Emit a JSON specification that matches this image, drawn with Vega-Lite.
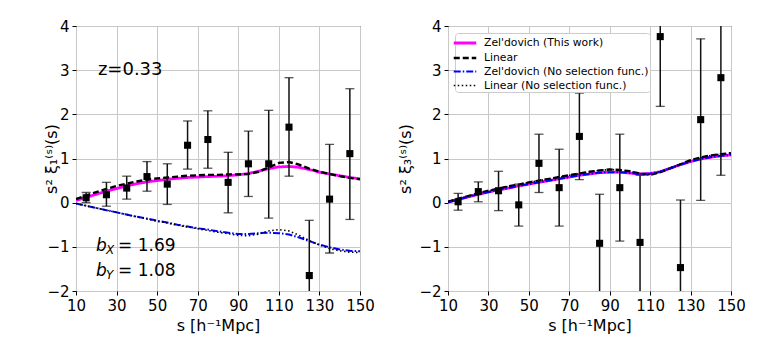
{
  "$schema": "https://vega.github.io/schema/vega-lite/v6.json",
  "padding": {"left": 42, "top": 18, "right": 5, "bottom": 5},
  "spacing": 21,
  "config": {
    "font": "DejaVu Sans",
    "view": {"stroke": "black", "strokeWidth": 1},
    "axis": {
      "domain": false, "grid": true, "gridColor": "#c8c8c8", "gridWidth": 1,
      "tickColor": "black", "tickSize": 4, "labelColor": "black", "labelFontSize": 15,
      "titleFontSize": 16, "titleFontWeight": "normal", "titleColor": "black", "labelPadding": 3, "labelOverlap": false, "labelFlush": false
    },
    "axisY": {"titleY": 132.5, "titleAngle": -90, "titleAlign": "center", "titleBaseline": "middle"}
  },
  "datasets": {
    "curves": [
      {"p":1,"series":"Zel'dovich (This work)","s":10,"v":0.05},{"p":1,"series":"Zel'dovich (This work)","s":15,"v":0.12},{"p":1,"series":"Zel'dovich (This work)","s":20,"v":0.19},{"p":1,"series":"Zel'dovich (This work)","s":25,"v":0.26},{"p":1,"series":"Zel'dovich (This work)","s":30,"v":0.32},{"p":1,"series":"Zel'dovich (This work)","s":35,"v":0.38},{"p":1,"series":"Zel'dovich (This work)","s":40,"v":0.43},{"p":1,"series":"Zel'dovich (This work)","s":45,"v":0.47},{"p":1,"series":"Zel'dovich (This work)","s":50,"v":0.50},{"p":1,"series":"Zel'dovich (This work)","s":55,"v":0.53},{"p":1,"series":"Zel'dovich (This work)","s":60,"v":0.55},{"p":1,"series":"Zel'dovich (This work)","s":65,"v":0.57},{"p":1,"series":"Zel'dovich (This work)","s":70,"v":0.58},{"p":1,"series":"Zel'dovich (This work)","s":75,"v":0.59},{"p":1,"series":"Zel'dovich (This work)","s":80,"v":0.60},{"p":1,"series":"Zel'dovich (This work)","s":85,"v":0.61},{"p":1,"series":"Zel'dovich (This work)","s":90,"v":0.63},{"p":1,"series":"Zel'dovich (This work)","s":95,"v":0.66},{"p":1,"series":"Zel'dovich (This work)","s":100,"v":0.71},{"p":1,"series":"Zel'dovich (This work)","s":105,"v":0.77},{"p":1,"series":"Zel'dovich (This work)","s":110,"v":0.81},{"p":1,"series":"Zel'dovich (This work)","s":115,"v":0.82},{"p":1,"series":"Zel'dovich (This work)","s":120,"v":0.80},{"p":1,"series":"Zel'dovich (This work)","s":125,"v":0.75},{"p":1,"series":"Zel'dovich (This work)","s":130,"v":0.69},{"p":1,"series":"Zel'dovich (This work)","s":135,"v":0.65},{"p":1,"series":"Zel'dovich (This work)","s":140,"v":0.61},{"p":1,"series":"Zel'dovich (This work)","s":145,"v":0.57},{"p":1,"series":"Zel'dovich (This work)","s":150,"v":0.54},
      {"p":1,"series":"Linear","s":10,"v":0.08},{"p":1,"series":"Linear","s":15,"v":0.16},{"p":1,"series":"Linear","s":20,"v":0.24},{"p":1,"series":"Linear","s":25,"v":0.31},{"p":1,"series":"Linear","s":30,"v":0.38},{"p":1,"series":"Linear","s":35,"v":0.43},{"p":1,"series":"Linear","s":40,"v":0.48},{"p":1,"series":"Linear","s":45,"v":0.52},{"p":1,"series":"Linear","s":50,"v":0.55},{"p":1,"series":"Linear","s":55,"v":0.57},{"p":1,"series":"Linear","s":60,"v":0.59},{"p":1,"series":"Linear","s":65,"v":0.61},{"p":1,"series":"Linear","s":70,"v":0.62},{"p":1,"series":"Linear","s":75,"v":0.63},{"p":1,"series":"Linear","s":80,"v":0.63},{"p":1,"series":"Linear","s":85,"v":0.64},{"p":1,"series":"Linear","s":90,"v":0.64},{"p":1,"series":"Linear","s":95,"v":0.65},{"p":1,"series":"Linear","s":100,"v":0.70},{"p":1,"series":"Linear","s":105,"v":0.80},{"p":1,"series":"Linear","s":110,"v":0.90},{"p":1,"series":"Linear","s":115,"v":0.92},{"p":1,"series":"Linear","s":120,"v":0.86},{"p":1,"series":"Linear","s":125,"v":0.77},{"p":1,"series":"Linear","s":130,"v":0.70},{"p":1,"series":"Linear","s":135,"v":0.65},{"p":1,"series":"Linear","s":140,"v":0.60},{"p":1,"series":"Linear","s":145,"v":0.56},{"p":1,"series":"Linear","s":150,"v":0.53},
      {"p":1,"series":"Zel'dovich (No selection func.)","s":10,"v":-0.02},{"p":1,"series":"Zel'dovich (No selection func.)","s":15,"v":-0.07},{"p":1,"series":"Zel'dovich (No selection func.)","s":20,"v":-0.12},{"p":1,"series":"Zel'dovich (No selection func.)","s":25,"v":-0.17},{"p":1,"series":"Zel'dovich (No selection func.)","s":30,"v":-0.22},{"p":1,"series":"Zel'dovich (No selection func.)","s":35,"v":-0.27},{"p":1,"series":"Zel'dovich (No selection func.)","s":40,"v":-0.32},{"p":1,"series":"Zel'dovich (No selection func.)","s":45,"v":-0.36},{"p":1,"series":"Zel'dovich (No selection func.)","s":50,"v":-0.41},{"p":1,"series":"Zel'dovich (No selection func.)","s":55,"v":-0.45},{"p":1,"series":"Zel'dovich (No selection func.)","s":60,"v":-0.50},{"p":1,"series":"Zel'dovich (No selection func.)","s":65,"v":-0.54},{"p":1,"series":"Zel'dovich (No selection func.)","s":70,"v":-0.58},{"p":1,"series":"Zel'dovich (No selection func.)","s":75,"v":-0.61},{"p":1,"series":"Zel'dovich (No selection func.)","s":80,"v":-0.65},{"p":1,"series":"Zel'dovich (No selection func.)","s":85,"v":-0.68},{"p":1,"series":"Zel'dovich (No selection func.)","s":90,"v":-0.71},{"p":1,"series":"Zel'dovich (No selection func.)","s":95,"v":-0.71},{"p":1,"series":"Zel'dovich (No selection func.)","s":100,"v":-0.69},{"p":1,"series":"Zel'dovich (No selection func.)","s":105,"v":-0.68},{"p":1,"series":"Zel'dovich (No selection func.)","s":110,"v":-0.69},{"p":1,"series":"Zel'dovich (No selection func.)","s":115,"v":-0.72},{"p":1,"series":"Zel'dovich (No selection func.)","s":120,"v":-0.79},{"p":1,"series":"Zel'dovich (No selection func.)","s":125,"v":-0.87},{"p":1,"series":"Zel'dovich (No selection func.)","s":130,"v":-0.95},{"p":1,"series":"Zel'dovich (No selection func.)","s":135,"v":-1.01},{"p":1,"series":"Zel'dovich (No selection func.)","s":140,"v":-1.06},{"p":1,"series":"Zel'dovich (No selection func.)","s":145,"v":-1.09},{"p":1,"series":"Zel'dovich (No selection func.)","s":150,"v":-1.10},
      {"p":1,"series":"Linear (No selection func.)","s":10,"v":-0.02},{"p":1,"series":"Linear (No selection func.)","s":15,"v":-0.07},{"p":1,"series":"Linear (No selection func.)","s":20,"v":-0.12},{"p":1,"series":"Linear (No selection func.)","s":25,"v":-0.17},{"p":1,"series":"Linear (No selection func.)","s":30,"v":-0.22},{"p":1,"series":"Linear (No selection func.)","s":35,"v":-0.27},{"p":1,"series":"Linear (No selection func.)","s":40,"v":-0.32},{"p":1,"series":"Linear (No selection func.)","s":45,"v":-0.37},{"p":1,"series":"Linear (No selection func.)","s":50,"v":-0.42},{"p":1,"series":"Linear (No selection func.)","s":55,"v":-0.46},{"p":1,"series":"Linear (No selection func.)","s":60,"v":-0.51},{"p":1,"series":"Linear (No selection func.)","s":65,"v":-0.55},{"p":1,"series":"Linear (No selection func.)","s":70,"v":-0.59},{"p":1,"series":"Linear (No selection func.)","s":75,"v":-0.63},{"p":1,"series":"Linear (No selection func.)","s":80,"v":-0.67},{"p":1,"series":"Linear (No selection func.)","s":85,"v":-0.70},{"p":1,"series":"Linear (No selection func.)","s":90,"v":-0.74},{"p":1,"series":"Linear (No selection func.)","s":95,"v":-0.75},{"p":1,"series":"Linear (No selection func.)","s":100,"v":-0.71},{"p":1,"series":"Linear (No selection func.)","s":105,"v":-0.64},{"p":1,"series":"Linear (No selection func.)","s":110,"v":-0.61},{"p":1,"series":"Linear (No selection func.)","s":115,"v":-0.64},{"p":1,"series":"Linear (No selection func.)","s":120,"v":-0.74},{"p":1,"series":"Linear (No selection func.)","s":125,"v":-0.86},{"p":1,"series":"Linear (No selection func.)","s":130,"v":-0.96},{"p":1,"series":"Linear (No selection func.)","s":135,"v":-1.04},{"p":1,"series":"Linear (No selection func.)","s":140,"v":-1.09},{"p":1,"series":"Linear (No selection func.)","s":145,"v":-1.12},{"p":1,"series":"Linear (No selection func.)","s":150,"v":-1.13},
      {"p":3,"series":"Zel'dovich (This work)","s":10,"v":0.01},{"p":3,"series":"Zel'dovich (This work)","s":15,"v":0.07},{"p":3,"series":"Zel'dovich (This work)","s":20,"v":0.13},{"p":3,"series":"Zel'dovich (This work)","s":25,"v":0.19},{"p":3,"series":"Zel'dovich (This work)","s":30,"v":0.24},{"p":3,"series":"Zel'dovich (This work)","s":35,"v":0.29},{"p":3,"series":"Zel'dovich (This work)","s":40,"v":0.33},{"p":3,"series":"Zel'dovich (This work)","s":45,"v":0.38},{"p":3,"series":"Zel'dovich (This work)","s":50,"v":0.42},{"p":3,"series":"Zel'dovich (This work)","s":55,"v":0.46},{"p":3,"series":"Zel'dovich (This work)","s":60,"v":0.50},{"p":3,"series":"Zel'dovich (This work)","s":65,"v":0.54},{"p":3,"series":"Zel'dovich (This work)","s":70,"v":0.58},{"p":3,"series":"Zel'dovich (This work)","s":75,"v":0.62},{"p":3,"series":"Zel'dovich (This work)","s":80,"v":0.65},{"p":3,"series":"Zel'dovich (This work)","s":85,"v":0.68},{"p":3,"series":"Zel'dovich (This work)","s":90,"v":0.69},{"p":3,"series":"Zel'dovich (This work)","s":95,"v":0.69},{"p":3,"series":"Zel'dovich (This work)","s":100,"v":0.67},{"p":3,"series":"Zel'dovich (This work)","s":105,"v":0.65},{"p":3,"series":"Zel'dovich (This work)","s":110,"v":0.66},{"p":3,"series":"Zel'dovich (This work)","s":115,"v":0.70},{"p":3,"series":"Zel'dovich (This work)","s":120,"v":0.78},{"p":3,"series":"Zel'dovich (This work)","s":125,"v":0.86},{"p":3,"series":"Zel'dovich (This work)","s":130,"v":0.93},{"p":3,"series":"Zel'dovich (This work)","s":135,"v":0.99},{"p":3,"series":"Zel'dovich (This work)","s":140,"v":1.03},{"p":3,"series":"Zel'dovich (This work)","s":145,"v":1.06},{"p":3,"series":"Zel'dovich (This work)","s":150,"v":1.08},
      {"p":3,"series":"Linear","s":10,"v":0.02},{"p":3,"series":"Linear","s":15,"v":0.09},{"p":3,"series":"Linear","s":20,"v":0.15},{"p":3,"series":"Linear","s":25,"v":0.21},{"p":3,"series":"Linear","s":30,"v":0.27},{"p":3,"series":"Linear","s":35,"v":0.32},{"p":3,"series":"Linear","s":40,"v":0.37},{"p":3,"series":"Linear","s":45,"v":0.41},{"p":3,"series":"Linear","s":50,"v":0.46},{"p":3,"series":"Linear","s":55,"v":0.50},{"p":3,"series":"Linear","s":60,"v":0.54},{"p":3,"series":"Linear","s":65,"v":0.58},{"p":3,"series":"Linear","s":70,"v":0.62},{"p":3,"series":"Linear","s":75,"v":0.66},{"p":3,"series":"Linear","s":80,"v":0.70},{"p":3,"series":"Linear","s":85,"v":0.73},{"p":3,"series":"Linear","s":90,"v":0.75},{"p":3,"series":"Linear","s":95,"v":0.74},{"p":3,"series":"Linear","s":100,"v":0.71},{"p":3,"series":"Linear","s":105,"v":0.66},{"p":3,"series":"Linear","s":110,"v":0.63},{"p":3,"series":"Linear","s":115,"v":0.69},{"p":3,"series":"Linear","s":120,"v":0.78},{"p":3,"series":"Linear","s":125,"v":0.87},{"p":3,"series":"Linear","s":130,"v":0.96},{"p":3,"series":"Linear","s":135,"v":1.02},{"p":3,"series":"Linear","s":140,"v":1.07},{"p":3,"series":"Linear","s":145,"v":1.10},{"p":3,"series":"Linear","s":150,"v":1.12},
      {"p":3,"series":"Zel'dovich (No selection func.)","s":10,"v":0.01},{"p":3,"series":"Zel'dovich (No selection func.)","s":15,"v":0.07},{"p":3,"series":"Zel'dovich (No selection func.)","s":20,"v":0.13},{"p":3,"series":"Zel'dovich (No selection func.)","s":25,"v":0.19},{"p":3,"series":"Zel'dovich (No selection func.)","s":30,"v":0.24},{"p":3,"series":"Zel'dovich (No selection func.)","s":35,"v":0.29},{"p":3,"series":"Zel'dovich (No selection func.)","s":40,"v":0.33},{"p":3,"series":"Zel'dovich (No selection func.)","s":45,"v":0.38},{"p":3,"series":"Zel'dovich (No selection func.)","s":50,"v":0.42},{"p":3,"series":"Zel'dovich (No selection func.)","s":55,"v":0.46},{"p":3,"series":"Zel'dovich (No selection func.)","s":60,"v":0.50},{"p":3,"series":"Zel'dovich (No selection func.)","s":65,"v":0.54},{"p":3,"series":"Zel'dovich (No selection func.)","s":70,"v":0.58},{"p":3,"series":"Zel'dovich (No selection func.)","s":75,"v":0.62},{"p":3,"series":"Zel'dovich (No selection func.)","s":80,"v":0.65},{"p":3,"series":"Zel'dovich (No selection func.)","s":85,"v":0.68},{"p":3,"series":"Zel'dovich (No selection func.)","s":90,"v":0.69},{"p":3,"series":"Zel'dovich (No selection func.)","s":95,"v":0.69},{"p":3,"series":"Zel'dovich (No selection func.)","s":100,"v":0.67},{"p":3,"series":"Zel'dovich (No selection func.)","s":105,"v":0.65},{"p":3,"series":"Zel'dovich (No selection func.)","s":110,"v":0.66},{"p":3,"series":"Zel'dovich (No selection func.)","s":115,"v":0.70},{"p":3,"series":"Zel'dovich (No selection func.)","s":120,"v":0.78},{"p":3,"series":"Zel'dovich (No selection func.)","s":125,"v":0.86},{"p":3,"series":"Zel'dovich (No selection func.)","s":130,"v":0.93},{"p":3,"series":"Zel'dovich (No selection func.)","s":135,"v":0.99},{"p":3,"series":"Zel'dovich (No selection func.)","s":140,"v":1.03},{"p":3,"series":"Zel'dovich (No selection func.)","s":145,"v":1.06},{"p":3,"series":"Zel'dovich (No selection func.)","s":150,"v":1.08},
      {"p":3,"series":"Linear (No selection func.)","s":10,"v":0.02},{"p":3,"series":"Linear (No selection func.)","s":15,"v":0.09},{"p":3,"series":"Linear (No selection func.)","s":20,"v":0.15},{"p":3,"series":"Linear (No selection func.)","s":25,"v":0.21},{"p":3,"series":"Linear (No selection func.)","s":30,"v":0.27},{"p":3,"series":"Linear (No selection func.)","s":35,"v":0.32},{"p":3,"series":"Linear (No selection func.)","s":40,"v":0.37},{"p":3,"series":"Linear (No selection func.)","s":45,"v":0.41},{"p":3,"series":"Linear (No selection func.)","s":50,"v":0.46},{"p":3,"series":"Linear (No selection func.)","s":55,"v":0.50},{"p":3,"series":"Linear (No selection func.)","s":60,"v":0.54},{"p":3,"series":"Linear (No selection func.)","s":65,"v":0.58},{"p":3,"series":"Linear (No selection func.)","s":70,"v":0.62},{"p":3,"series":"Linear (No selection func.)","s":75,"v":0.66},{"p":3,"series":"Linear (No selection func.)","s":80,"v":0.70},{"p":3,"series":"Linear (No selection func.)","s":85,"v":0.73},{"p":3,"series":"Linear (No selection func.)","s":90,"v":0.75},{"p":3,"series":"Linear (No selection func.)","s":95,"v":0.74},{"p":3,"series":"Linear (No selection func.)","s":100,"v":0.71},{"p":3,"series":"Linear (No selection func.)","s":105,"v":0.66},{"p":3,"series":"Linear (No selection func.)","s":110,"v":0.63},{"p":3,"series":"Linear (No selection func.)","s":115,"v":0.69},{"p":3,"series":"Linear (No selection func.)","s":120,"v":0.78},{"p":3,"series":"Linear (No selection func.)","s":125,"v":0.87},{"p":3,"series":"Linear (No selection func.)","s":130,"v":0.96},{"p":3,"series":"Linear (No selection func.)","s":135,"v":1.02},{"p":3,"series":"Linear (No selection func.)","s":140,"v":1.07},{"p":3,"series":"Linear (No selection func.)","s":145,"v":1.10},{"p":3,"series":"Linear (No selection func.)","s":150,"v":1.12}
    ],
    "points": [
      {"p":1,"s":15,"v":0.11,"lo":0.0,"hi":0.23},{"p":1,"s":25,"v":0.18,"lo":-0.08,"hi":0.46},{"p":1,"s":35,"v":0.33,"lo":0.08,"hi":0.60},{"p":1,"s":45,"v":0.59,"lo":0.26,"hi":0.93},{"p":1,"s":55,"v":0.42,"lo":-0.04,"hi":0.88},{"p":1,"s":65,"v":1.30,"lo":0.76,"hi":1.85},{"p":1,"s":75,"v":1.43,"lo":0.78,"hi":2.08},{"p":1,"s":85,"v":0.46,"lo":-0.23,"hi":1.14},{"p":1,"s":95,"v":0.88,"lo":0.14,"hi":1.62},{"p":1,"s":105,"v":0.88,"lo":-0.35,"hi":2.09},{"p":1,"s":115,"v":1.71,"lo":0.60,"hi":2.83},{"p":1,"s":125,"v":-1.65,"lo":-2.9,"hi":-0.40},{"p":1,"s":135,"v":0.08,"lo":-1.14,"hi":1.32},{"p":1,"s":145,"v":1.11,"lo":-0.38,"hi":2.58},
      {"p":3,"s":15,"v":0.02,"lo":-0.17,"hi":0.21},{"p":3,"s":25,"v":0.25,"lo":0.02,"hi":0.47},{"p":3,"s":35,"v":0.27,"lo":-0.18,"hi":0.71},{"p":3,"s":45,"v":-0.05,"lo":-0.53,"hi":0.42},{"p":3,"s":55,"v":0.89,"lo":0.23,"hi":1.55},{"p":3,"s":65,"v":0.34,"lo":-0.53,"hi":1.21},{"p":3,"s":75,"v":1.50,"lo":0.52,"hi":2.48},{"p":3,"s":85,"v":-0.92,"lo":-2.03,"hi":0.19},{"p":3,"s":95,"v":0.34,"lo":-0.87,"hi":1.55},{"p":3,"s":105,"v":-0.90,"lo":-2.42,"hi":0.62},{"p":3,"s":115,"v":3.76,"lo":2.18,"hi":5.34},{"p":3,"s":125,"v":-1.47,"lo":-3.0,"hi":0.06},{"p":3,"s":135,"v":1.88,"lo":0.05,"hi":3.71},{"p":3,"s":145,"v":2.83,"lo":0.62,"hi":5.04}
    ],
    "labels": [
      {"s":20.8,"v":3.0,"t":"z=0.33"}
    ],
    "bias": [
      {"s":19.9,"v":-0.98,"sub":"X","val":"= 1.69"},
      {"s":19.9,"v":-1.55,"sub":"Y","val":"= 1.08"}
    ]
  },
  "resolve": {"scale": {"color": "independent", "strokeDash": "independent", "strokeWidth": "independent"}},
  "hconcat": [
    {
      "width": 284, "height": 265,
      "layer": [
        {
          "data": {"name": "curves"},
          "transform": [{"filter": "datum.p == 1"}],
          "mark": {"type": "line", "clip": true},
          "encoding": {
            "x": {"field": "s", "type": "quantitative", "scale": {"domain": [10, 150], "nice": false}, "axis": {"values": [10,30,50,70,90,110,130,150], "title": "s [h⁻¹Mpc]"}},
            "y": {"field": "v", "type": "quantitative", "scale": {"domain": [-2, 4], "nice": false}, "axis": {"values": [-2,-1,0,1,2,3,4], "title": "s² ξ₁⁽ˢ⁾(s)", "titleX": -25}},
            "color": {"field": "series", "type": "nominal", "legend": null, "scale": {"domain": ["Zel'dovich (This work)","Linear","Zel'dovich (No selection func.)","Linear (No selection func.)"], "range": ["#ff00ff","#000000","#0000ff","#000000"]}},
            "strokeDash": {"field": "series", "type": "nominal", "legend": null, "scale": {"domain": ["Zel'dovich (This work)","Linear","Zel'dovich (No selection func.)","Linear (No selection func.)"], "range": [[1,0],[6,3],[7,2,1.5,2],[1.5,2.5]]}},
            "strokeWidth": {"field": "series", "type": "nominal", "legend": null, "scale": {"domain": ["Zel'dovich (This work)","Linear","Zel'dovich (No selection func.)","Linear (No selection func.)"], "range": [2.8,1.6,1.6,1.6]}}
          }
        },
        {
          "data": {"name": "points"},
          "transform": [{"filter": "datum.p == 1"}],
          "mark": {"type": "rule", "clip": true, "color": "#111111", "strokeWidth": 1.5},
          "encoding": {"x": {"field": "s", "type": "quantitative"}, "y": {"field": "lo", "type": "quantitative"}, "y2": {"field": "hi"}}
        },
        {
          "data": {"name": "points"},
          "transform": [{"filter": "datum.p == 1"}],
          "mark": {"type": "tick", "clip": true, "color": "#111111", "orient": "horizontal", "size": 9, "thickness": 1.3},
          "encoding": {"x": {"field": "s", "type": "quantitative"}, "y": {"field": "lo", "type": "quantitative"}}
        },
        {
          "data": {"name": "points"},
          "transform": [{"filter": "datum.p == 1"}],
          "mark": {"type": "tick", "clip": true, "color": "#111111", "orient": "horizontal", "size": 9, "thickness": 1.3},
          "encoding": {"x": {"field": "s", "type": "quantitative"}, "y": {"field": "hi", "type": "quantitative"}}
        },
        {
          "data": {"name": "points"},
          "transform": [{"filter": "datum.p == 1"}],
          "mark": {"type": "square", "clip": true, "color": "black", "opacity": 1, "size": 50},
          "encoding": {"x": {"field": "s", "type": "quantitative"}, "y": {"field": "v", "type": "quantitative"}}
        },
        {
          "data": {"name": "labels"},
          "mark": {"type": "text", "align": "left", "baseline": "middle", "fontSize": 18, "color": "black"},
          "encoding": {"x": {"field": "s", "type": "quantitative"}, "y": {"field": "v", "type": "quantitative"}, "text": {"field": "t"}}
        },
        {
          "data": {"name": "bias"},
          "mark": {"type": "text", "align": "left", "baseline": "middle", "fontSize": 17, "fontStyle": "italic", "color": "black"},
          "encoding": {"x": {"field": "s", "type": "quantitative"}, "y": {"field": "v", "type": "quantitative"}, "text": {"value": "b"}}
        },
        {
          "data": {"name": "bias"},
          "mark": {"type": "text", "align": "left", "baseline": "middle", "fontSize": 12, "fontStyle": "italic", "color": "black", "dx": 10, "dy": 4},
          "encoding": {"x": {"field": "s", "type": "quantitative"}, "y": {"field": "v", "type": "quantitative"}, "text": {"field": "sub"}}
        },
        {
          "data": {"name": "bias"},
          "mark": {"type": "text", "align": "left", "baseline": "middle", "fontSize": 17, "color": "black", "dx": 22},
          "encoding": {"x": {"field": "s", "type": "quantitative"}, "y": {"field": "v", "type": "quantitative"}, "text": {"field": "val"}}
        }
      ]
    },
    {
      "width": 283, "height": 265,
      "layer": [
        {
          "data": {"name": "curves"},
          "transform": [{"filter": "datum.p == 3"}],
          "mark": {"type": "line", "clip": true},
          "encoding": {
            "x": {"field": "s", "type": "quantitative", "scale": {"domain": [10, 150], "nice": false}, "axis": {"values": [10,30,50,70,90,110,130,150], "title": "s [h⁻¹Mpc]"}},
            "y": {"field": "v", "type": "quantitative", "scale": {"domain": [-2, 4], "nice": false}, "axis": {"values": [-2,-1,0,1,2,3,4], "title": "s² ξ₃⁽ˢ⁾(s)", "titleX": -43}},
            "color": {"field": "series", "type": "nominal", "title": null, "scale": {"domain": ["Zel'dovich (This work)","Linear","Zel'dovich (No selection func.)","Linear (No selection func.)"], "range": ["#ff00ff","#000000","#0000ff","#000000"]},
              "legend": {"title": null, "orient": "top-left", "offset": 7, "fillColor": "white", "strokeColor": "#cccccc", "cornerRadius": 3, "padding": 1, "titlePadding": 0, "labelFontSize": 10.8, "labelLimit": 400, "labelOffset": 10, "labelColor": "black", "symbolType": "M-1.5,0H1.5", "symbolFillColor": "transparent", "symbolSize": 225, "rowPadding": 0}},
            "strokeDash": {"field": "series", "type": "nominal", "title": null, "scale": {"domain": ["Zel'dovich (This work)","Linear","Zel'dovich (No selection func.)","Linear (No selection func.)"], "range": [[1,0],[6,3],[7,2,1.5,2],[1.5,2.5]]}},
            "strokeWidth": {"field": "series", "type": "nominal", "title": null, "scale": {"domain": ["Zel'dovich (This work)","Linear","Zel'dovich (No selection func.)","Linear (No selection func.)"], "range": [2.8,1.6,1.6,1.6]}}
          }
        },
        {
          "data": {"name": "points"},
          "transform": [{"filter": "datum.p == 3"}],
          "mark": {"type": "rule", "clip": true, "color": "#111111", "strokeWidth": 1.5},
          "encoding": {"x": {"field": "s", "type": "quantitative"}, "y": {"field": "lo", "type": "quantitative"}, "y2": {"field": "hi"}}
        },
        {
          "data": {"name": "points"},
          "transform": [{"filter": "datum.p == 3"}],
          "mark": {"type": "tick", "clip": true, "color": "#111111", "orient": "horizontal", "size": 9, "thickness": 1.3},
          "encoding": {"x": {"field": "s", "type": "quantitative"}, "y": {"field": "lo", "type": "quantitative"}}
        },
        {
          "data": {"name": "points"},
          "transform": [{"filter": "datum.p == 3"}],
          "mark": {"type": "tick", "clip": true, "color": "#111111", "orient": "horizontal", "size": 9, "thickness": 1.3},
          "encoding": {"x": {"field": "s", "type": "quantitative"}, "y": {"field": "hi", "type": "quantitative"}}
        },
        {
          "data": {"name": "points"},
          "transform": [{"filter": "datum.p == 3"}],
          "mark": {"type": "square", "clip": true, "color": "black", "opacity": 1, "size": 50},
          "encoding": {"x": {"field": "s", "type": "quantitative"}, "y": {"field": "v", "type": "quantitative"}}
        }
      ]
    }
  ]
}
